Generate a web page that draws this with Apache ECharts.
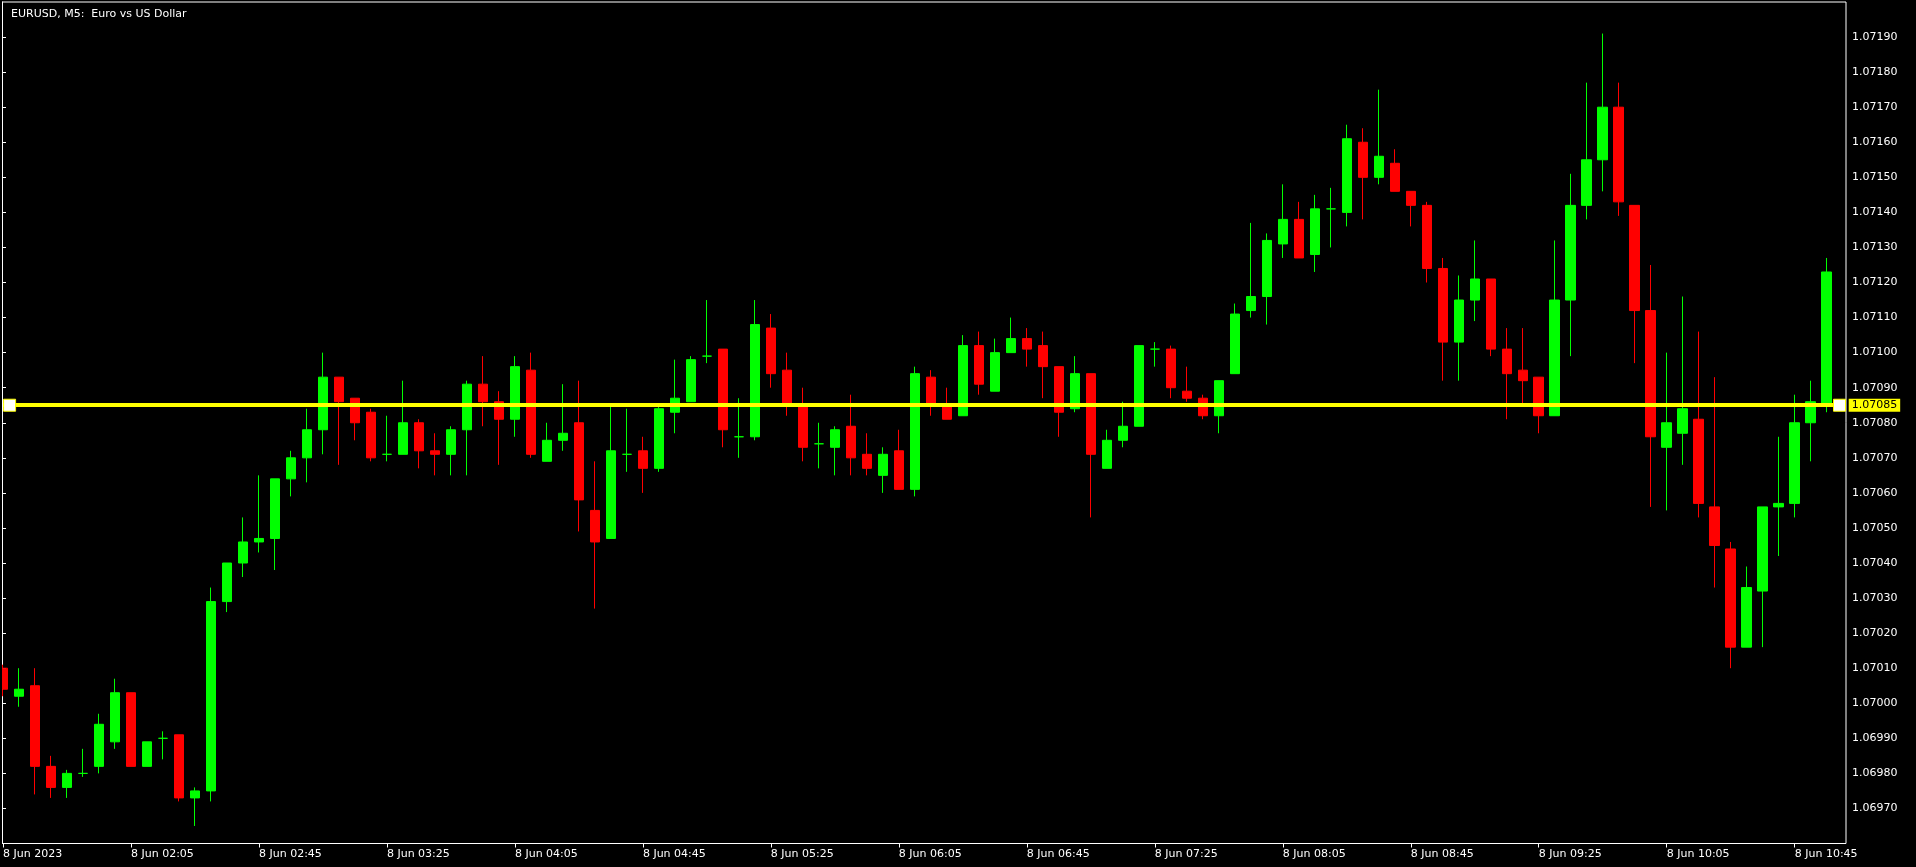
<!DOCTYPE html>
<html><head><meta charset="utf-8">
<script src="https://cdn.jsdelivr.net/npm/echarts@6/dist/echarts.min.js"></script>
<style>html,body{margin:0;padding:0;background:#000;}#c{width:1916px;height:867px;}</style>
</head><body><div id="c"></div>
<script>
const chartTitle = 'EURUSD, M5:  Euro vs US Dollar';
const dayPrefix = '8 Jun ';
const firstLabel = '8 Jun 2023';
const startMinutes = 85;   // 01:25
const barMinutes = 5;
const extraSlots = 1;

const opens = [1.07010,1.07002,1.07005,1.06982,1.06976,1.06980,1.06982,1.06989,1.07003,1.06982,
1.06990,1.06991,1.06973,1.06975,1.07029,1.07040,1.07046,1.07047,1.07064,1.07070,
1.07078,1.07093,1.07087,1.07083,1.07071,1.07071,1.07080,1.07072,1.07071,1.07078,
1.07091,1.07086,1.07081,1.07095,1.07069,1.07075,1.07080,1.07055,1.07047,1.07071,
1.07072,1.07067,1.07083,1.07086,1.07099,1.07101,1.07076,1.07076,1.07107,1.07095,
1.07085,1.07074,1.07073,1.07079,1.07071,1.07065,1.07072,1.07061,1.07093,1.07085,
1.07082,1.07102,1.07089,1.07100,1.07104,1.07102,1.07096,1.07084,1.07094,1.07067,
1.07075,1.07079,1.07101,1.07101,1.07089,1.07087,1.07082,1.07094,1.07112,1.07116,
1.07131,1.07138,1.07128,1.07141,1.07140,1.07160,1.07150,1.07154,1.07146,1.07142,
1.07124,1.07103,1.07115,1.07121,1.07101,1.07095,1.07093,1.07082,1.07115,1.07142,
1.07155,1.07170,1.07142,1.07112,1.07073,1.07077,1.07081,1.07056,1.07044,1.07016,
1.07032,1.07056,1.07057,1.07080,1.07085];
const closes = [1.07004,1.07004,1.06982,1.06976,1.06980,1.06980,1.06994,1.07003,1.06982,1.06989,
1.06990,1.06973,1.06975,1.07029,1.07040,1.07046,1.07047,1.07064,1.07070,1.07078,
1.07093,1.07086,1.07080,1.07070,1.07071,1.07080,1.07072,1.07071,1.07078,1.07091,
1.07086,1.07081,1.07096,1.07071,1.07075,1.07077,1.07058,1.07046,1.07072,1.07071,
1.07067,1.07084,1.07087,1.07098,1.07099,1.07078,1.07076,1.07108,1.07094,1.07085,
1.07073,1.07074,1.07078,1.07070,1.07067,1.07071,1.07061,1.07094,1.07085,1.07081,
1.07102,1.07091,1.07100,1.07104,1.07101,1.07096,1.07083,1.07094,1.07071,1.07075,
1.07079,1.07102,1.07101,1.07090,1.07087,1.07082,1.07092,1.07111,1.07116,1.07132,
1.07138,1.07127,1.07141,1.07141,1.07161,1.07150,1.07156,1.07146,1.07142,1.07124,
1.07103,1.07115,1.07121,1.07101,1.07094,1.07092,1.07082,1.07115,1.07142,1.07155,
1.07170,1.07143,1.07112,1.07076,1.07080,1.07084,1.07057,1.07045,1.07016,1.07033,
1.07056,1.07057,1.07080,1.07086,1.07123];
const lows = [1.07002,1.06999,1.06974,1.06973,1.06973,1.06979,1.06980,1.06987,1.06982,1.06982,
1.06984,1.06972,1.06965,1.06972,1.07026,1.07036,1.07043,1.07038,1.07059,1.07063,
1.07071,1.07068,1.07075,1.07069,1.07069,1.07071,1.07067,1.07065,1.07065,1.07065,
1.07079,1.07068,1.07076,1.07070,1.07069,1.07072,1.07049,1.07027,1.07047,1.07066,
1.07060,1.07066,1.07077,1.07086,1.07097,1.07073,1.07070,1.07075,1.07090,1.07082,
1.07069,1.07067,1.07065,1.07065,1.07065,1.07060,1.07061,1.07059,1.07082,1.07081,
1.07082,1.07088,1.07089,1.07100,1.07096,1.07087,1.07076,1.07083,1.07053,1.07067,
1.07073,1.07079,1.07096,1.07087,1.07086,1.07081,1.07077,1.07094,1.07110,1.07108,
1.07127,1.07127,1.07123,1.07130,1.07136,1.07138,1.07148,1.07146,1.07136,1.07120,
1.07092,1.07092,1.07109,1.07099,1.07081,1.07085,1.07077,1.07082,1.07099,1.07138,
1.07146,1.07139,1.07097,1.07056,1.07055,1.07068,1.07053,1.07033,1.07010,1.07016,
1.07016,1.07042,1.07053,1.07069,1.07083];
const highs = [1.07011,1.07010,1.07010,1.06985,1.06981,1.06987,1.06997,1.07007,1.07003,1.06989,
1.06992,1.06991,1.06976,1.07033,1.07040,1.07053,1.07065,1.07064,1.07072,1.07084,
1.07100,1.07093,1.07087,1.07084,1.07082,1.07092,1.07081,1.07077,1.07079,1.07092,
1.07099,1.07089,1.07099,1.07100,1.07080,1.07091,1.07092,1.07069,1.07085,1.07084,
1.07076,1.07085,1.07098,1.07099,1.07115,1.07101,1.07087,1.07115,1.07111,1.07100,
1.07090,1.07080,1.07079,1.07088,1.07077,1.07073,1.07078,1.07096,1.07095,1.07090,
1.07105,1.07106,1.07104,1.07110,1.07107,1.07106,1.07096,1.07099,1.07094,1.07078,
1.07086,1.07102,1.07103,1.07102,1.07096,1.07088,1.07092,1.07114,1.07137,1.07134,
1.07148,1.07143,1.07145,1.07147,1.07165,1.07164,1.07175,1.07158,1.07146,1.07143,
1.07127,1.07122,1.07132,1.07121,1.07107,1.07107,1.07093,1.07132,1.07151,1.07177,
1.07191,1.07177,1.07142,1.07125,1.07100,1.07116,1.07106,1.07093,1.07046,1.07039,
1.07056,1.07076,1.07088,1.07092,1.07127];

const hLineValue = 1.07085;
const yMin = 1.0696, yMax = 1.0720, yStep = 0.0001;

const BULL = '#00ff00', BEAR = '#ff0000', FG = '#ffffff', LINE = '#ffff00';
const FONT = 'DejaVu Sans';

function hhmm(m) {
  const h = Math.floor(m / 60), mm = m % 60;
  return String(h).padStart(2, '0') + ':' + String(mm).padStart(2, '0');
}
const categories = [];
for (let i = 0; i < opens.length + extraSlots; i++) categories.push(hhmm(startMinutes + i * barMinutes));
const firstCat = categories[0];
const lastCat = categories[categories.length - 1];

const candleData = opens.map((o, i) => {
  const item = { value: [o, closes[i], lows[i], highs[i]] };
  if (o === closes[i]) item.itemStyle = { color0: BULL, borderColor0: BULL };
  return item;
});

const chart = echarts.init(document.getElementById('c'), null, { renderer: 'canvas' });
chart.setOption({
  backgroundColor: '#000',
  animation: false,
  title: {
    text: chartTitle, left: 6, top: 4,
    textStyle: { color: FG, fontSize: 11, fontWeight: 'normal', fontFamily: FONT }
  },
  graphic: [
    { type: 'rect', left: 0, top: 0, z: 100, silent: true,
      shape: { width: 2, height: 867 }, style: { fill: '#000' } }
  ],
  grid: [
    { left: 2.7, right: 73.3, top: 2, bottom: 23.5, show: false },
    { left: 2, right: 70, top: 2, bottom: 23.5, show: true, borderColor: FG, borderWidth: 1, backgroundColor: 'transparent' }
  ],
  xAxis: [
    {
      type: 'category', gridIndex: 0, data: categories, boundaryGap: false,
      axisLine: { show: false },
      axisTick: { show: true, interval: 7, length: 4, lineStyle: { color: FG } },
      axisLabel: {
        interval: 7, color: FG, fontSize: 11, fontFamily: FONT, align: 'left', margin: 5,
        formatter: (v, i) => i === 0 ? firstLabel : dayPrefix + v
      },
      splitLine: { show: false }
    },
    { type: 'value', gridIndex: 1, show: false, min: 0, max: 1 }
  ],
  yAxis: [
    { type: 'value', gridIndex: 0, min: yMin, max: yMax, show: false, splitLine: { show: false } },
    {
      type: 'value', gridIndex: 1, position: 'right', min: yMin, max: yMax, interval: yStep,
      axisLine: { show: true, lineStyle: { color: FG } },
      axisTick: { show: true, length: 4, lineStyle: { color: FG } },
      axisLabel: {
        color: FG, fontSize: 11, fontFamily: FONT, margin: 6,
        showMinLabel: false, showMaxLabel: false,
        formatter: v => v.toFixed(5)
      },
      splitLine: { show: false }
    }
  ],
  series: [{
    type: 'candlestick',
    xAxisIndex: 0, yAxisIndex: 0,
    data: candleData,
    barWidth: 10,
    clip: true,
    itemStyle: {
      color: BULL, color0: BEAR, borderColor: BULL, borderColor0: BEAR,
      borderColorDoji: BULL, borderWidth: 1
    },
    markLine: {
      silent: true, symbol: 'none', z: 4, animation: false,
      lineStyle: { color: LINE, width: 4, type: 'solid' },
      label: {
        show: true, position: 'end', distance: 6,
        formatter: () => hLineValue.toFixed(5),
        color: '#000', backgroundColor: LINE, padding: [1, 3, 1, 3],
        fontSize: 11, fontFamily: FONT
      },
      emphasis: { disabled: true },
      data: [[{ coord: [firstCat, hLineValue] }, { coord: [lastCat, hLineValue] }]]
    },
    markPoint: {
      silent: true, z: 6, animation: false,
      symbol: 'rect', symbolSize: 12,
      itemStyle: { color: '#ffffff', borderColor: LINE, borderWidth: 1 },
      label: { show: false },
      data: [
        { coord: [firstCat, hLineValue], symbolOffset: [6.6, 0] },
        { coord: [lastCat, hLineValue], symbolOffset: [-3.2, 0] }
      ]
    }
  }]
});
</script>
</body></html>
